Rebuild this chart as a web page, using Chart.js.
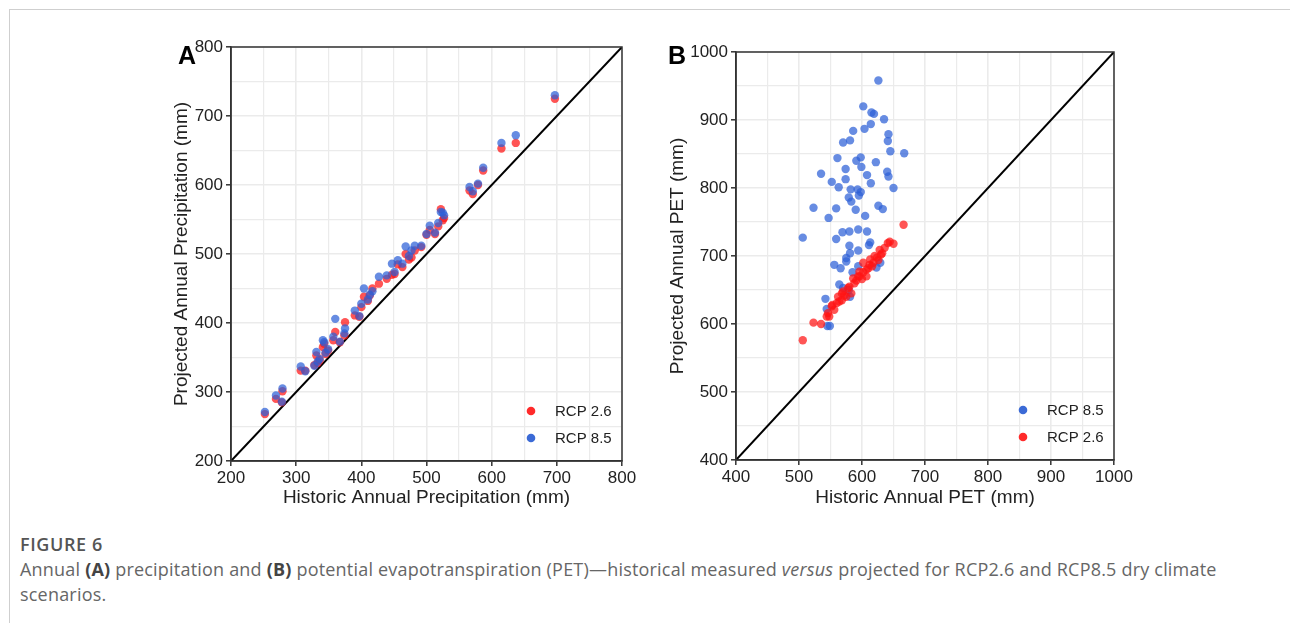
<!DOCTYPE html>
<html>
<head>
<meta charset="utf-8">
<script src="https://cdn.jsdelivr.net/npm/chart.js@4"></script>
<style>
  body { margin: 0; background: #fff; width: 1290px; height: 623px; position: relative; overflow: hidden; }
  #frame { position: absolute; left: 9px; top: 9px; width: 1290px; height: 620px; border-top: 1px solid #cfcfcf; border-left: 1px solid #cfcfcf; }
  #wrapA { position: absolute; left: 160px; top: 30px; width: 480px; height: 490px; }
  #wrapB { position: absolute; left: 650px; top: 30px; width: 490px; height: 490px; }
  #caption { position: absolute; left: 20px; top: 532px; width: 1260px; font-family: "Open Sans", sans-serif; color: #666; font-size: 18px; letter-spacing: 0.2px; line-height: 25px; }
  #caption .fig { color: #555; font-weight: 600; font-size: 18px; letter-spacing: 0.6px; }
  #caption b { color: #444; }
</style>
</head>
<body>
<div id="frame"></div>
<div id="wrapA"><canvas id="chartA" width="480" height="490"></canvas></div>
<div id="wrapB"><canvas id="chartB" width="490" height="490"></canvas></div>
<div id="caption">
  <div class="fig">FIGURE 6</div>
  <div>Annual <b>(A)</b> precipitation and <b>(B)</b> potential evapotranspiration (PET)—historical measured <i>versus</i> projected for RCP2.6 and RCP8.5 dry climate<br>scenarios.</div>
</div>
<script>
// ---- panel A: precipitation (mm) ----
const histPrecip = [252, 269, 278, 279, 307, 314, 328, 331, 333, 336, 341, 343, 345, 349, 357, 360, 367, 374, 375,
  390, 397, 400, 404, 410, 413, 417, 427, 439, 447, 451, 456, 463, 468, 473, 477, 482, 492, 500, 505, 513, 518,
  522, 525, 527, 566, 571, 579, 587, 615, 637, 697];
const precipRcp26 = [268, 290, 285, 301, 331, 331, 339, 353, 342, 346, 365, 370, 355, 360, 375, 387, 372, 382, 401,
  411, 409, 423, 438, 432, 440, 450, 457, 464, 470, 471, 485, 481, 500, 492, 495, 505, 510, 528, 535, 529, 540,
  565, 549, 552, 592, 587, 600, 621, 653, 661, 725];
const precipRcp85 = [271, 295, 286, 305, 337, 330, 338, 358, 344, 348, 375, 372, 357, 362, 380, 406, 373, 385, 392,
  418, 410, 428, 450, 434, 441, 446, 467, 469, 486, 474, 491, 486, 511, 497, 505, 512, 512, 529, 541, 531, 545,
  561, 560, 556, 597, 591, 602, 625, 661, 672, 730];
const precipTicks = [200, 300, 400, 500, 600, 700, 800];

// ---- panel B: PET (mm) ----
const petHist85 = [626, 602, 615, 619, 635, 586, 604, 614, 570, 581, 642, 641, 645, 667, 561, 591, 598, 622, 535,
  574, 599, 608, 640, 642, 574, 552, 614, 563, 582, 593, 598, 595, 650, 579, 583, 523, 559, 590, 626, 633, 547,
  605, 506, 559, 569, 580, 594, 608, 613, 611, 580, 581, 594, 575, 575, 556, 566, 585, 594, 623, 629, 564, 542,
  544, 545, 549, 570, 581, 579];
const petProj85 = [958, 920, 911, 909, 901, 884, 887, 894, 867, 870, 879, 869, 854, 851, 844, 840, 845, 838, 821,
  828, 831, 819, 824, 817, 813, 809, 807, 801, 798, 798, 794, 789, 800, 786, 780, 771, 770, 768, 774, 769, 756,
  759, 727, 725, 735, 736, 739, 736, 720, 716, 715, 704, 708, 697, 692, 687, 682, 676, 685, 683, 690, 658, 637,
  622, 597, 597, 653, 640, 650];
const petHist26 = [506, 523, 535, 544, 546, 553, 560, 562, 556, 568, 570, 578, 583, 575, 586, 591, 594, 602, 602,
  607, 610, 613, 618, 620, 628, 626, 632, 636, 641, 644, 650, 666, 580, 588, 596, 607, 612, 568, 552, 596, 548,
  564, 572, 600, 616, 624, 630];
const petProj26 = [576, 602, 600, 611, 616, 628, 631, 640, 621, 635, 648, 653, 645, 640, 667, 664, 670, 676, 690,
  670, 682, 695, 690, 700, 709, 694, 704, 712, 719, 721, 718, 746, 655, 660, 670, 680, 687, 645, 626, 677, 611,
  633, 642, 666, 685, 698, 702];
const petTicks = [400, 500, 600, 700, 800, 900, 1000];

const RED = 'rgba(255, 20, 20, 0.72)';
const BLUE = 'rgba(45, 95, 215, 0.72)';
const LEGEND_RED = '#ff2a2a';
const LEGEND_BLUE = '#3b6ad6';
const FONT = '"Liberation Sans", Arial, sans-serif';

function pairs(xs, ys) {
  return xs.map((x, i) => ({ x: x, y: ys[i] }));
}

function axis(ticks, titleText, isY, fitSize, titlePad) {
  const min = ticks[0];
  const max = ticks[ticks.length - 1];
  return {
    type: 'linear',
    min: min,
    max: max,
    border: { display: true, color: '#333', width: 1.5 },
    grid: {
      color: '#ebebeb',
      lineWidth: (ctx) => (ctx.tick && ctx.tick.value % 100 === 0 ? 1.6 : 1.2),
      tickColor: (ctx) => (ctx.tick && ctx.tick.value % 100 === 0 ? '#333' : 'rgba(0,0,0,0)'),
      tickLength: 5,
      tickWidth: 1.5,
    },
    ticks: {
      stepSize: 50,
      autoSkip: false,
      maxRotation: 0,
      padding: isY ? 3 : 2,
      color: '#222',
      font: { family: FONT, size: 17 },
      callback: (v) => (ticks.includes(v) ? v : ''),
    },
    title: {
      display: true,
      text: titleText,
      color: '#222',
      font: { family: FONT, size: 19 },
      padding: isY ? { top: titlePad, bottom: 0 } : { top: 0, bottom: titlePad },
    },
    afterFit: (scale) => {
      if (isY) scale.width = fitSize;
      else scale.height = fitSize;
    },
  };
}

function decorPlugin(letter, legendItems) {
  return {
    id: 'decor' + letter,
    afterDatasetsDraw(chart) {
      const { ctx, chartArea } = chart;
      ctx.save();
      // box around the panel
      ctx.strokeStyle = '#333';
      ctx.lineWidth = 1.5;
      ctx.strokeRect(chartArea.left, chartArea.top, chartArea.right - chartArea.left, chartArea.bottom - chartArea.top);
      // panel letter
      ctx.fillStyle = '#000';
      ctx.font = 'bold 25px ' + FONT;
      ctx.textAlign = 'center';
      ctx.textBaseline = 'middle';
      ctx.fillText(letter, 27, 27);
      // legend inside bottom right
      ctx.font = '15px ' + FONT;
      ctx.textAlign = 'left';
      legendItems.forEach((item, i) => {
        const dx = chartArea.right - 91;
        const dy = chartArea.bottom - 50 + i * 27;
        ctx.beginPath();
        ctx.fillStyle = item.color;
        ctx.arc(dx, dy, 4.3, 0, Math.PI * 2);
        ctx.fill();
        ctx.fillStyle = '#222';
        ctx.fillText(item.label, dx + 24, dy + 1);
      });
      ctx.restore();
    },
  };
}

function pointSet(label, data, color) {
  return {
    label: label,
    data: data,
    backgroundColor: color,
    borderWidth: 0,
    pointRadius: 4.2,
    pointHoverRadius: 4.2,
  };
}

function diagonal(ticks) {
  const a = ticks[0];
  const b = ticks[ticks.length - 1];
  return {
    label: '1:1',
    data: [{ x: a, y: a }, { x: b, y: b }],
    showLine: true,
    borderColor: '#000',
    borderWidth: 2,
    pointRadius: 0,
  };
}

const chartA = new Chart(document.getElementById('chartA'), {
  type: 'scatter',
  data: {
    datasets: [
      pointSet('RCP 8.5', pairs(histPrecip, precipRcp85), BLUE),
      pointSet('RCP 2.6', pairs(histPrecip, precipRcp26), RED),
      diagonal(precipTicks),
    ],
  },
  options: {
    responsive: false,
    animation: false,
    devicePixelRatio: 1,
    layout: { padding: { left: 0, top: 17, right: 18, bottom: 0 } },
    plugins: { legend: { display: false }, tooltip: { enabled: false } },
    scales: {
      x: axis(precipTicks, 'Historic Annual Precipitation (mm)', false, 59, 11),
      y: axis(precipTicks, 'Projected Annual Precipitation (mm)', true, 71, 10),
    },
  },
  plugins: [decorPlugin('A', [
    { label: 'RCP 2.6', color: LEGEND_RED },
    { label: 'RCP 8.5', color: LEGEND_BLUE },
  ])],
});

const chartB = new Chart(document.getElementById('chartB'), {
  type: 'scatter',
  data: {
    datasets: [
      pointSet('RCP 2.6', pairs(petHist26, petProj26), RED),
      pointSet('RCP 8.5', pairs(petHist85, petProj85), BLUE),
      diagonal(petTicks),
    ],
  },
  options: {
    responsive: false,
    animation: false,
    devicePixelRatio: 1,
    layout: { padding: { left: 0, top: 22, right: 26, bottom: 0 } },
    plugins: { legend: { display: false }, tooltip: { enabled: false } },
    scales: {
      x: axis(petTicks, 'Historic Annual PET (mm)', false, 60, 11),
      y: axis(petTicks, 'Projected Annual PET (mm)', true, 86, 16),
    },
  },
  plugins: [decorPlugin('B', [
    { label: 'RCP 8.5', color: LEGEND_BLUE },
    { label: 'RCP 2.6', color: LEGEND_RED },
  ])],
});
</script>
</body>
</html>
